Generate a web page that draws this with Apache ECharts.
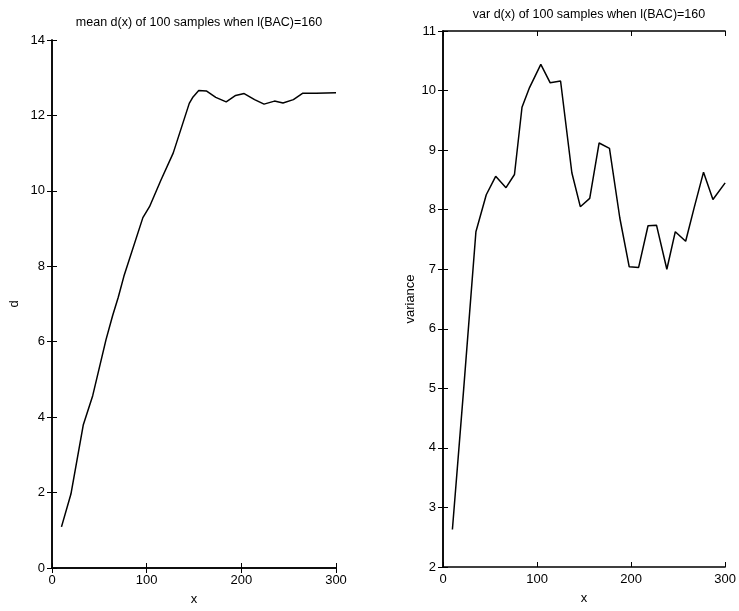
<!DOCTYPE html>
<html>
<head>
<meta charset="utf-8">
<script src="https://cdn.jsdelivr.net/npm/echarts@6/dist/echarts.min.js"></script>
<style>
  html, body { margin: 0; padding: 0; background: #fff; }
  #chart { width: 739px; height: 611px; }
</style>
</head>
<body>
<div id="chart"></div>
<script>
// left panel: mean d(x)
var meanX = [10, 20, 33, 43, 57, 64, 70, 76, 96, 103, 115, 128, 145, 149, 155, 163, 173, 184, 194, 203, 214, 224, 235, 244, 255, 265, 279, 300];
var meanY = [1.09, 1.96, 3.79, 4.57, 6.05, 6.69, 7.18, 7.74, 9.29, 9.58, 10.28, 11.0, 12.32, 12.49, 12.66, 12.65, 12.48, 12.36, 12.53, 12.58, 12.42, 12.3, 12.38, 12.33, 12.42, 12.59, 12.59, 12.6];
// right panel: var d(x)
var varX = [10, 22, 35, 46, 56, 67, 76, 84, 92, 104, 114, 125, 137, 146, 156, 166, 177, 188, 198, 208, 218, 227, 238, 247, 258, 267, 277, 287, 300];
var varY = [2.63, 4.99, 7.63, 8.25, 8.56, 8.37, 8.59, 9.72, 10.05, 10.44, 10.13, 10.16, 8.62, 8.05, 8.19, 9.12, 9.03, 7.86, 7.04, 7.03, 7.73, 7.74, 7.0, 7.63, 7.47, 8.03, 8.63, 8.17, 8.45];

var titles = ['mean d(x) of 100 samples when l(BAC)=160', 'var d(x) of 100 samples when l(BAC)=160'];
var yNames = ['d', 'variance'];
var xName = 'x';

function pairs(xs, ys) {
	var out = [];
	for (var i = 0; i < xs.length; i++) {
		out.push([xs[i], ys[i]]);
	}
	return out;
}

var font = 'Liberation Sans, Arial, sans-serif';
var axisLine = { show: true, lineStyle: { color: '#000', width: 1.5 } };
var tick = { show: true, inside: true, length: 5, lineStyle: { color: '#000', width: 1 } };
var label = { color: '#000', fontSize: 13, fontFamily: font };

function xAxes(grid) {
	return [
		{ type: 'value', gridIndex: grid, min: 0, max: 300, interval: 100, position: 'bottom',
		  name: xName, nameLocation: 'middle', nameGap: 25,
		  nameTextStyle: { color: '#000', fontSize: 13, fontFamily: font },
		  axisLine: axisLine, axisTick: tick, axisLabel: Object.assign({ margin: 6 }, label),
		  splitLine: { show: false } },
		{ type: 'value', gridIndex: grid, min: 0, max: 300, interval: 100, position: 'top',
		  axisLine: axisLine, axisTick: tick, axisLabel: { show: false }, splitLine: { show: false } }
	];
}

function yAxes(grid, min, max, interval, gap) {
	return [
		{ type: 'value', gridIndex: grid, min: min, max: max, interval: interval, position: 'left',
		  name: yNames[grid], nameLocation: 'middle', nameGap: gap,
		  nameTextStyle: { color: '#000', fontSize: 13, fontFamily: font },
		  axisLine: axisLine, axisTick: tick, axisLabel: Object.assign({ margin: 7 }, label),
		  splitLine: { show: false } },
		{ type: 'value', gridIndex: grid, min: min, max: max, interval: interval, position: 'right',
		  axisLine: axisLine, axisTick: tick, axisLabel: { show: false }, splitLine: { show: false } }
	];
}

var chart = echarts.init(document.getElementById('chart'), null, { renderer: 'canvas' });
var option = {
	backgroundColor: '#fff',
	animation: false,
	title: [
		{ text: titles[0], left: 194, top: 11, textAlign: 'center',
		  textStyle: { color: '#000', fontSize: 12.5, fontWeight: 'normal', fontFamily: font } },
		{ text: titles[1], left: 584, top: 3, textAlign: 'center',
		  textStyle: { color: '#000', fontSize: 12.5, fontWeight: 'normal', fontFamily: font } }
	],
	grid: [
		{ left: 52, right: 403, top: 40, bottom: 38 },
		{ left: 443, right: 12, top: 31, bottom: 44 }
	],
	xAxis: xAxes(0).concat(xAxes(1)),
	yAxis: yAxes(0, 0, 14, 2, 31).concat(yAxes(1, 2, 11, 1, 26)),
	series: [
		{ type: 'line', xAxisIndex: 0, yAxisIndex: 0, data: pairs(meanX, meanY),
		  showSymbol: false, lineStyle: { color: '#000', width: 1.5 } },
		{ type: 'line', xAxisIndex: 2, yAxisIndex: 2, data: pairs(varX, varY),
		  showSymbol: false, lineStyle: { color: '#000', width: 1.5 } }
	]
};
chart.setOption(option);
</script>
</body>
</html>
